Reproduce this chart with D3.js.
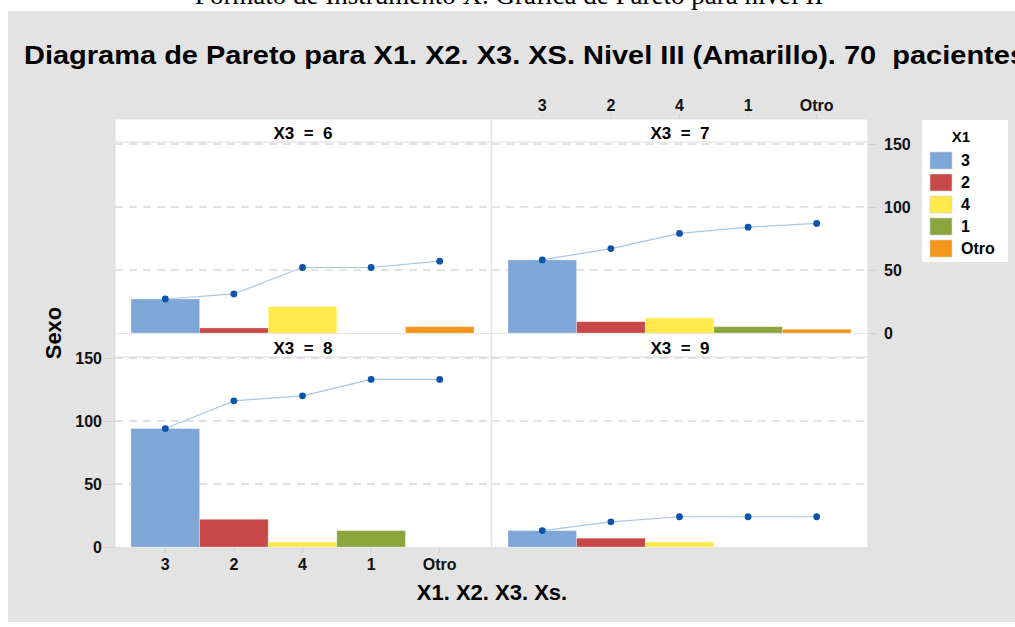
<!DOCTYPE html>
<html>
<head>
<meta charset="utf-8">
<script src="https://cdn.jsdelivr.net/npm/d3@7"></script>
<style>
  body { margin: 0; background: #fff; }
  text { font-family: "Liberation Sans", Arial, sans-serif; }
</style>
</head>
<body>
<svg id="svg" width="1015" height="627"></svg>
<script>
// categories (X1) in pareto order
var categories = ["3", "2", "4", "1", "Otro"];
var legendLabels = ["3", "2", "4", "1", "Otro"];
var colors = ["#7ea7d8", "#c84848", "#ffe94b", "#8ba53c", "#f4961c"];
var yTicks = [0, 50, 100, 150];

// counts per facet (X3 = 6, 7, 8, 9)
var facets = ["X3 = 6", "X3 = 7", "X3 = 8", "X3 = 9"];
var valuesX3_6 = [27, 4, 21, 0, 5];
var valuesX3_7 = [58, 9, 12, 5, 3];
var valuesX3_8 = [94, 22, 4, 13, 0];
var valuesX3_9 = [13, 7, 4, 0, 0];
var facetValues = [valuesX3_6, valuesX3_7, valuesX3_8, valuesX3_9];

var svg = d3.select("#svg");

// caption from the document, mostly cut off at the top
svg.append("text")
    .attr("x", 509)
    .attr("y", 4)
    .attr("text-anchor", "middle")
    .style("font-family", "'Liberation Serif', 'Times New Roman', serif")
    .attr("font-size", 27)
    .text("Formato de Instrumento X. Gráfica de Pareto para nivel II");

svg.append("rect")
    .attr("x", 8).attr("y", 11)
    .attr("width", 1007).attr("height", 611)
    .attr("fill", "#e3e3e3");

svg.append("text")
    .attr("x", 24)
    .attr("y", 64)
    .attr("font-size", 25)
    .attr("font-weight", "bold")
    .attr("textLength", 1002)
    .attr("lengthAdjust", "spacingAndGlyphs")
    .style("white-space", "pre")
    .text("Diagrama de Pareto para X1. X2. X3. XS. Nivel III (Amarillo). 70  pacientes");

// panel frame
var left0 = 115, left1 = 492, panelW = 376;
var stripH = 23;
var rows = [
  { top: 119, y0: 333, y150: 144 },
  { top: 334, y0: 547, y150: 358 }
];

svg.append("rect")
    .attr("x", left0).attr("y", 119)
    .attr("width", 868 - left0).attr("height", 548 - 119)
    .attr("fill", "#fff")
    .attr("stroke", "#dedede");

var panels = [];
facets.forEach(function(name, i) {
  var r = rows[Math.floor(i / 2)];
  var px = i % 2 ? left1 : left0;
  var x = d3.scaleBand()
      .domain(categories)
      .range([px + 16, px + 359])
      .padding(0);
  var y = d3.scaleLinear()
      .domain([0, 150])
      .range([r.y0, r.y150]);
  panels.push({ x: x, y: y, px: px, r: r, name: name, values: facetValues[i] });
});

panels.forEach(function(p) {
  var g = svg.append("g");

  // strip
  g.append("line")
      .attr("x1", p.px).attr("x2", p.px + panelW)
      .attr("y1", p.r.top + stripH).attr("y2", p.r.top + stripH)
      .attr("stroke", "#dcdcdc");
  g.append("text")
      .attr("x", p.px + panelW / 2)
      .attr("y", p.r.top + 20)
      .attr("text-anchor", "middle")
      .attr("font-size", 17)
      .attr("font-weight", "bold")
      .style("white-space", "pre")
      .text(p.name.replace(" = ", "  =  "));

  // grid
  g.selectAll(".grid")
    .data([50, 100, 150])
    .enter().append("line")
      .attr("x1", p.px).attr("x2", p.px + panelW)
      .attr("y1", function(d) { return p.y(d); })
      .attr("y2", function(d) { return p.y(d); })
      .attr("stroke", "#d9d9d9")
      .attr("stroke-width", 1.5)
      .attr("stroke-dasharray", "8,6");
  g.append("line")
      .attr("x1", p.px).attr("x2", p.px + panelW)
      .attr("y1", p.y(0) + 0.5).attr("y2", p.y(0) + 0.5)
      .attr("stroke", "#e4e4e4");

  // bars
  g.selectAll(".bar")
    .data(p.values)
    .enter().append("rect")
      .attr("x", function(d, i) { return p.x(categories[i]); })
      .attr("width", p.x.bandwidth())
      .attr("y", function(d) { return p.y(d); })
      .attr("height", function(d) { return p.y(0) - p.y(d); })
      .attr("fill", function(d, i) { return colors[i]; })
      .attr("stroke", "#ffffff")
      .attr("stroke-opacity", 0.35)
      .attr("stroke-width", 0.8);

  // cumulative line
  var cum = [];
  p.values.reduce(function(a, v) { cum.push(a + v); return a + v; }, 0);
  var line = d3.line()
      .x(function(d, i) { return p.x(categories[i]) + p.x.bandwidth() / 2; })
      .y(function(d) { return p.y(d); });
  g.append("path")
      .datum(cum)
      .attr("d", line)
      .attr("fill", "none")
      .attr("stroke", "#a8c5e8")
      .attr("stroke-width", 1.2);
  g.selectAll(".pt")
    .data(cum)
    .enter().append("circle")
      .attr("cx", function(d, i) { return p.x(categories[i]) + p.x.bandwidth() / 2; })
      .attr("cy", function(d) { return p.y(d); })
      .attr("r", 3.4)
      .attr("fill", "#0a55a8");
});

// divider between columns
svg.append("line")
    .attr("x1", 491.5).attr("x2", 491.5)
    .attr("y1", 119).attr("y2", 548)
    .attr("stroke", "#e2e2e2")
    .attr("stroke-width", 1.5);

function styleAxis(sel, size) {
  sel.select(".domain").remove();
  sel.selectAll(".tick line").attr("stroke", "#cfcfcf");
  sel.selectAll(".tick text")
      .attr("font-size", size)
      .attr("font-weight", "bold")
      .attr("fill", "#111")
      .style("font-family", "'Liberation Sans', Arial, sans-serif");
}

// bottom axis (lower left)
svg.append("g")
    .attr("transform", "translate(0,548)")
    .call(d3.axisBottom(panels[2].x).tickSize(5).tickPadding(6))
    .call(styleAxis, 16);

// top axis (upper right)
svg.append("g")
    .attr("transform", "translate(0,119)")
    .call(d3.axisTop(panels[1].x).tickSize(4).tickPadding(4))
    .call(styleAxis, 16);

// left axis (lower left)
svg.append("g")
    .attr("transform", "translate(115,0)")
    .call(d3.axisLeft(panels[2].y).tickValues(yTicks).tickSize(10).tickPadding(3))
    .call(styleAxis, 16);

// right axis (upper right)
svg.append("g")
    .attr("transform", "translate(868,0)")
    .call(d3.axisRight(panels[1].y).tickValues(yTicks).tickSize(7).tickPadding(9))
    .call(styleAxis, 16);

// axis titles
svg.append("text")
    .attr("x", 492)
    .attr("y", 600)
    .attr("text-anchor", "middle")
    .attr("font-size", 22)
    .attr("font-weight", "bold")
    .text("X1. X2. X3. Xs.");

svg.append("text")
    .attr("transform", "translate(61,333)rotate(-90)")
    .attr("text-anchor", "middle")
    .attr("font-size", 22)
    .attr("font-weight", "bold")
    .text("Sexo");

// legend
var legend = svg.append("g").attr("transform", "translate(922,120)");
legend.append("rect")
    .attr("width", 86).attr("height", 142)
    .attr("fill", "#fff");
legend.append("text")
    .attr("x", 39).attr("y", 22)
    .attr("text-anchor", "middle")
    .attr("font-size", 15)
    .attr("font-weight", "bold")
    .text("X1");
var item = legend.selectAll(".item")
  .data(legendLabels)
  .enter().append("g")
    .attr("transform", function(d, i) { return "translate(8," + (32 + i * 22) + ")"; });
item.append("rect")
    .attr("width", 22).attr("height", 17)
    .attr("fill", function(d, i) { return colors[i]; })
    .attr("stroke", "#cfcfcf")
    .attr("stroke-width", 0.6);
item.append("text")
    .attr("x", 31).attr("y", 14)
    .attr("font-size", 16)
    .attr("font-weight", "bold")
    .text(function(d) { return d; });
</script>
</body>
</html>
